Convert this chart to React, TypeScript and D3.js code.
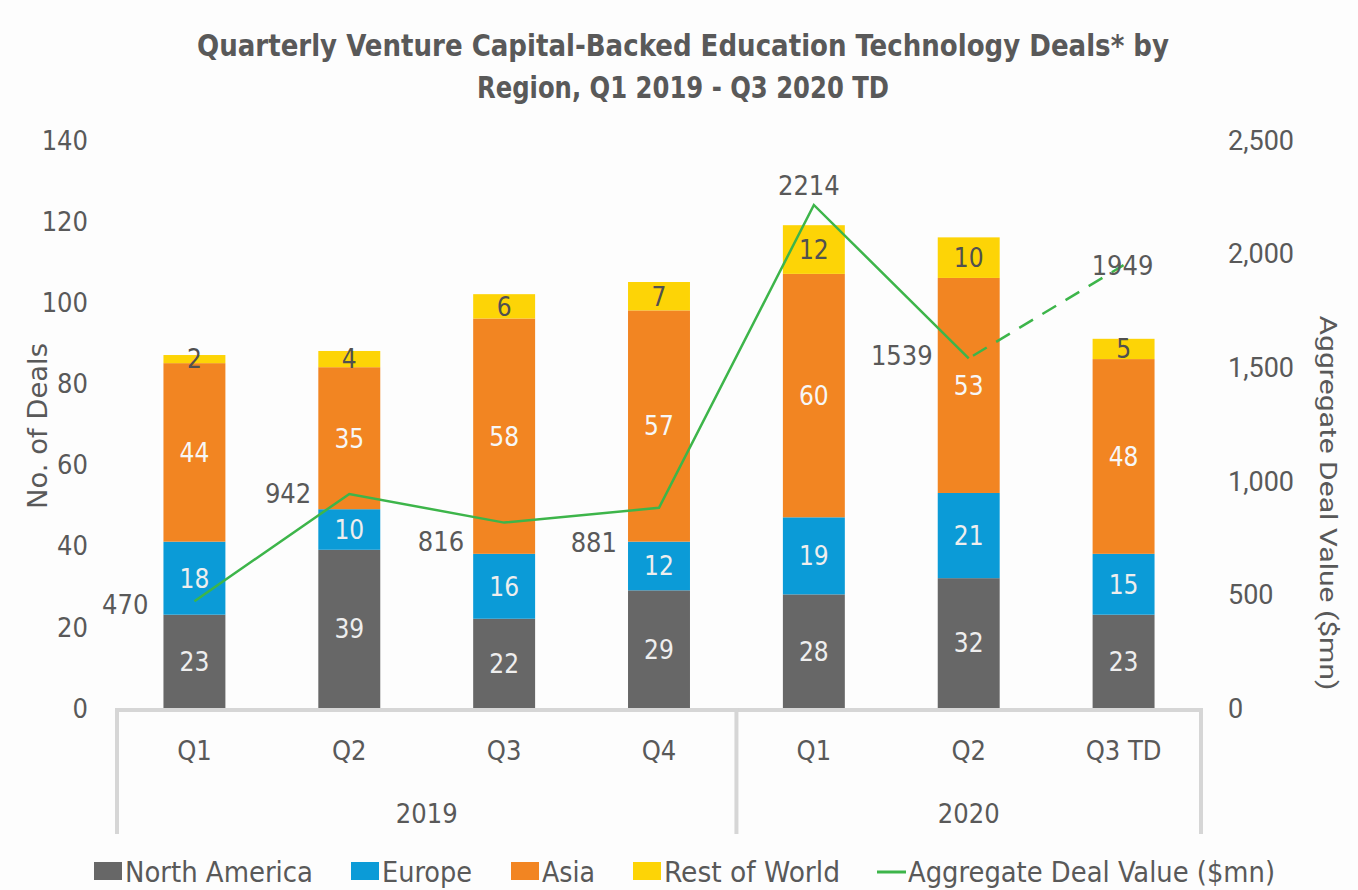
import React from "react";
import * as d3 from "d3";

const categories = ["Q1", "Q2", "Q3", "Q4", "Q1", "Q2", "Q3 TD"];
const years = ["2019", "2019", "2019", "2019", "2020", "2020", "2020"];
const northAmerica = [23, 39, 22, 29, 28, 32, 23];
const europe = [18, 10, 16, 12, 19, 21, 15];
const asia = [44, 35, 58, 57, 60, 53, 48];
const restOfWorld = [2, 4, 6, 7, 12, 10, 5];
const dealValue = [470, 942, 816, 881, 2214, 1539, 1949];
const leftTicks = [0, 20, 40, 60, 80, 100, 120, 140];
const rightTicks = [0, 500, 1000, 1500, 2000, 2500];

// label placement for line values: [dx, dy, anchor]
const valueLabelPlacement: [number, number, string][] = [
  [-46, 3, "end"],
  [-38, -1, "end"],
  [-40, 19, "end"],
  [-42, 34, "end"],
  [-5, -20, "middle"],
  [-36, -3, "end"],
  [-1, 0, "middle"],
];

const seriesNames = ["North America", "Europe", "Asia", "Rest of World"];
const seriesColors = ["#676767", "#0b9bd7", "#f28522", "#fdd406"];
const labelColors = ["#eeeeee", "#eeeeee", "#f7f7f7", "#505050"];
const lineColor = "#3db54a";
const textColor = "#595959";
const FONT = "'DejaVu Sans Condensed', 'Liberation Sans Narrow', Roboto, sans-serif";
const FONT2 = "Roboto, 'Noto Sans', sans-serif";

export default function App() {
  const W = 1358, H = 890;
  const left = 117, right = 1201, top = 140, bottom = 708;
  const idx = categories.map((_, i) => i);
  const x = d3.scaleBand<number>().domain(idx).range([left, right]).paddingInner(0.6).paddingOuter(0.3);
  const yL = d3.scaleLinear().domain([0, 140]).range([bottom, top]);
  const yR = d3.scaleLinear().domain([0, 2500]).range([bottom, top]);

  const table = idx.map((i) => ({
    i,
    s0: northAmerica[i],
    s1: europe[i],
    s2: asia[i],
    s3: restOfWorld[i],
  }));
  const stack = d3.stack<any>().keys(["s0", "s1", "s2", "s3"])(table);

  const cx = (i: number) => (x(i) as number) + x.bandwidth() / 2;
  const line = d3.line<number>().x((_, i) => cx(i)).y((d) => yR(d));
  const solidPts = dealValue.slice(0, 6);
  const dashed = d3.line<[number, number]>().x((d) => cx(d[0])).y((d) => yR(d[1]));

  const fmt = d3.format(",");
  const step = x.step();
  const yearGroups = [
    { year: "2019", from: 0, to: 3 },
    { year: "2020", from: 4, to: 6 },
  ];

  const legendItems = [
    { x: 94, w: 188, name: seriesNames[0], color: seriesColors[0], type: "rect" },
    { x: 351, w: 90, name: seriesNames[1], color: seriesColors[1], type: "rect" },
    { x: 511, w: 53, name: seriesNames[2], color: seriesColors[2], type: "rect" },
    { x: 633, w: 176, name: seriesNames[3], color: seriesColors[3], type: "rect" },
    { x: 877, w: 367, name: "Aggregate Deal Value ($mn)", color: lineColor, type: "line" },
  ];

  return (
    <svg width={W} height={H} style={{ position: "absolute", left: 0, top: 0, background: "#fdfdfd" }}>
      <rect width={W} height={H} fill="#fdfdfd" />
      {/* title */}
      <g fill={textColor} fontFamily={FONT} fontWeight="bold" fontSize={30}>
        <text x={683} y={56} textAnchor="middle" textLength={972} lengthAdjust="spacingAndGlyphs">
          Quarterly Venture Capital-Backed Education Technology Deals* by
        </text>
        <text x={683} y={98} textAnchor="middle" textLength={412} lengthAdjust="spacingAndGlyphs">
          Region, Q1 2019 - Q3 2020 TD
        </text>
      </g>

      {/* left ticks */}
      <g fill={textColor} fontFamily={FONT} fontSize={27}>
        {leftTicks.map((t) => (
          <text key={t} x={88} y={yL(t)} dy="0.36em" textAnchor="end">
            {t}
          </text>
        ))}
        <text
          transform={`translate(47,${426}) rotate(-90)`}
          textAnchor="middle"
          fontSize={27}
          textLength={166}
          lengthAdjust="spacingAndGlyphs"
        >
          No. of Deals
        </text>
      </g>
      {/* right ticks */}
      <g fill={textColor} fontFamily={FONT2} fontSize={27}>
        {rightTicks.map((t) => (
          <text key={t} x={1228} y={yR(t)} dy="0.36em" textAnchor="start">
            {fmt(t)}
          </text>
        ))}
        <text
          transform={`translate(1320,${503}) rotate(90)`}
          textAnchor="middle"
          fontSize={24}
          textLength={375}
          lengthAdjust="spacingAndGlyphs"
        >
          Aggregate Deal Value ($mn)
        </text>
      </g>

      {/* bars */}
      {stack.map((layer, si) => (
        <g key={si}>
          {layer.map((d, i) => (
            <rect
              key={i}
              x={x(i)}
              y={yL(d[1])}
              width={x.bandwidth()}
              height={yL(d[0]) - yL(d[1])}
              fill={seriesColors[si]}
            />
          ))}
        </g>
      ))}
      {/* bar labels */}
      {stack.map((layer, si) => (
        <g key={"l" + si} fontFamily={FONT} fontSize={26} textAnchor="middle" fill={labelColors[si]}>
          {layer.map((d, i) => (
            <text key={i} x={cx(i)} y={(yL(d[0]) + yL(d[1])) / 2} dy="0.36em">
              {d[1] - d[0]}
            </text>
          ))}
        </g>
      ))}

      {/* line */}
      <path d={line(solidPts) || ""} fill="none" stroke={lineColor} strokeWidth={2.5} />
      <path
        d={dashed([[5, dealValue[5]], [6, dealValue[6]]]) || ""}
        fill="none"
        stroke={lineColor}
        strokeWidth={2.5}
        strokeDasharray="16 11"
        strokeDashoffset={-5}
      />
      <g fontFamily={FONT} fontSize={27} fill={textColor}>
        {dealValue.map((v, i) => {
          const [dx, dy, anchor] = valueLabelPlacement[i];
          return (
            <text key={i} x={cx(i) + dx} y={yR(v) + dy} dy="0.36em" textAnchor={anchor as any}>
              {v}
            </text>
          );
        })}
      </g>

      {/* category axis box */}
      <g stroke="#d6d6d6" strokeWidth={4} fill="none">
        <line x1={left} x2={right} y1={bottom + 2} y2={bottom + 2} />
        <line x1={left} x2={left} y1={bottom} y2={834} />
        <line x1={left + step * 4} x2={left + step * 4} y1={bottom} y2={834} />
        <line x1={right} x2={right} y1={bottom} y2={834} />
      </g>
      <g fontFamily={FONT} fontSize={27} fill={textColor} textAnchor="middle">
        {categories.map((c, i) => (
          <text key={i} x={cx(i)} y={750} dy="0.36em">
            {c}
          </text>
        ))}
        {yearGroups.map((g) => (
          <text key={g.year} x={(cx(g.from) + cx(g.to)) / 2} y={813} dy="0.36em">
            {g.year}
          </text>
        ))}
      </g>

      {/* legend */}
      <g fontFamily={FONT} fontSize={28} fill={textColor}>
        {legendItems.map((it) => (
          <g key={it.name}>
            {it.type === "rect" ? (
              <rect x={it.x} y={862} width={28} height={18} fill={it.color} />
            ) : (
              <line x1={it.x} x2={it.x + 29} y1={872} y2={872} stroke={it.color} strokeWidth={3} />
            )}
            <text
              x={it.x + (it.type === "rect" ? 31 : 31)}
              y={872}
              dy="0.36em"
              textLength={it.w}
              lengthAdjust="spacingAndGlyphs"
            >
              {it.name}
            </text>
          </g>
        ))}
      </g>
    </svg>
  );
}
